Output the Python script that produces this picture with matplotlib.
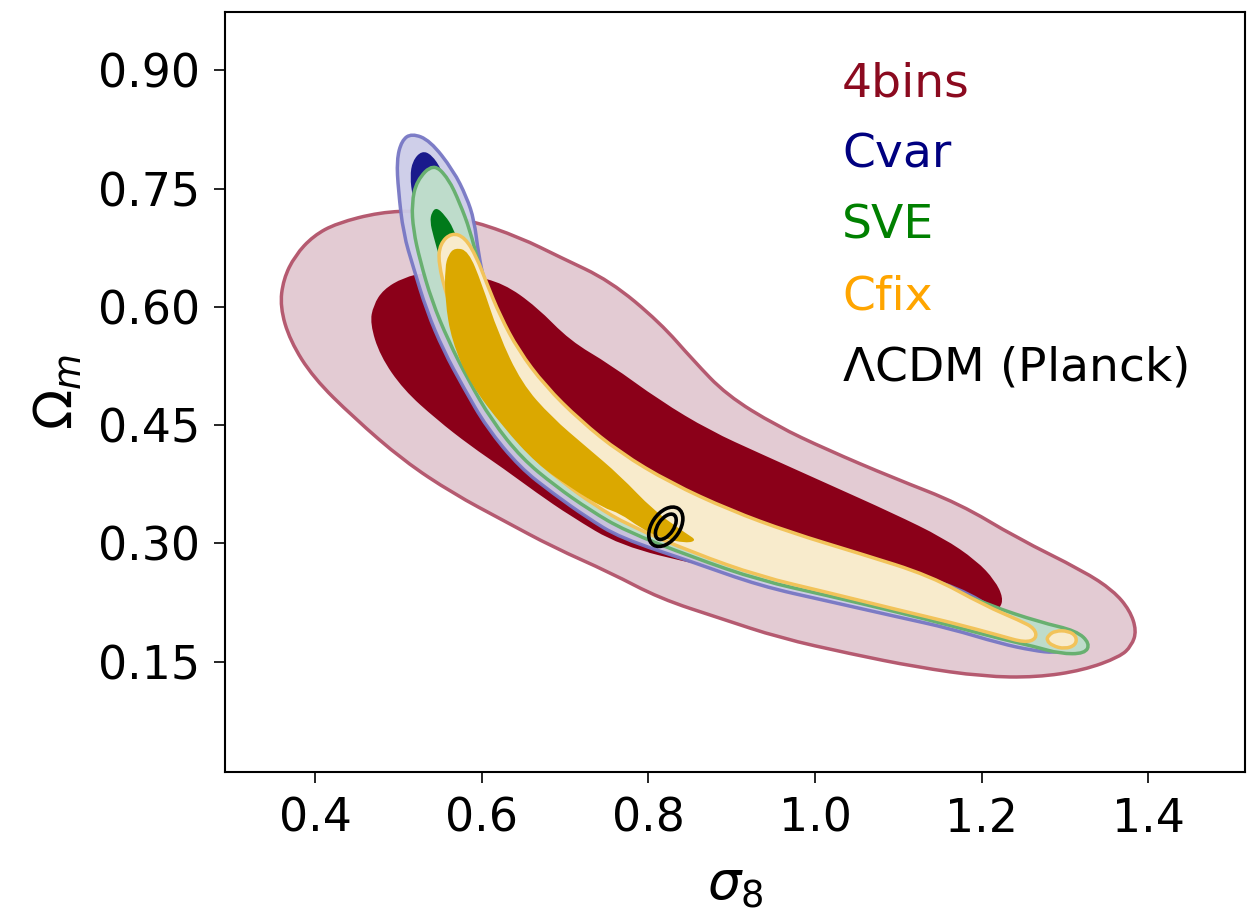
"""Omega_m - sigma_8 constraints for the four void-statistics setups"""
import matplotlib
matplotlib.use("Agg")
from matplotlib import pyplot as plt
from matplotlib.path import Path
from matplotlib.patches import PathPatch, Ellipse

# 68/95 per cent credible regions, traced as (sigma_8, Omega_m) outlines
bins4_95_s8 = [0.358, 0.362, 0.376, 0.398, 0.426, 0.478, 0.526, 0.586, 0.646, 0.694,
               0.754, 0.814, 0.854, 0.894, 0.954, 1.014, 1.094, 1.174, 1.242, 1.322,
               1.358, 1.378, 1.386, 1.380, 1.366, 1.322, 1.266, 1.202, 1.122, 1.042,
               0.958, 0.886, 0.814, 0.754, 0.686, 0.626, 0.566, 0.506, 0.446, 0.398,
               0.370]
bins4_95_om = [0.600, 0.635, 0.665, 0.690, 0.706, 0.720, 0.722, 0.710, 0.688, 0.663,
               0.633, 0.580, 0.532, 0.488, 0.449, 0.419, 0.383, 0.350, 0.307, 0.265,
               0.240, 0.215, 0.189, 0.170, 0.156, 0.139, 0.130, 0.131, 0.143, 0.160,
               0.180, 0.205, 0.230, 0.263, 0.295, 0.329, 0.363, 0.405, 0.460, 0.510,
               0.557]

bins4_68_s8 = [0.466, 0.470, 0.482, 0.506, 0.534, 0.586, 0.626, 0.666, 0.706, 0.754,
               0.814, 0.874, 0.934, 1.014, 1.094, 1.154, 1.194, 1.216, 1.226, 1.222,
               1.210, 1.102, 0.982, 0.862, 0.766, 0.706, 0.666, 0.626, 0.586, 0.546,
               0.506, 0.478]
bins4_68_om = [0.579, 0.602, 0.622, 0.637, 0.644, 0.640, 0.630, 0.600, 0.557, 0.527,
               0.481, 0.443, 0.414, 0.376, 0.338, 0.307, 0.278, 0.253, 0.231, 0.217,
               0.211, 0.227, 0.246, 0.272, 0.297, 0.335, 0.364, 0.395, 0.424, 0.457,
               0.495, 0.538]

cvar_95_s8 = [0.516, 0.538, 0.566, 0.582, 0.591, 0.596, 0.604, 0.622, 0.646, 0.676,
              0.712, 0.754, 0.802, 0.862, 0.934, 1.014, 1.094, 1.174, 1.222, 1.262,
              1.290, 1.304, 1.300, 1.288, 1.262, 1.222, 1.162, 1.102, 1.014, 0.934,
              0.854, 0.766, 0.726, 0.686, 0.646, 0.606, 0.578, 0.554, 0.534, 0.518,
              0.506, 0.500, 0.498, 0.504]
cvar_95_om = [0.820, 0.811, 0.773, 0.739, 0.710, 0.668, 0.627, 0.583, 0.538, 0.496,
              0.456, 0.415, 0.378, 0.348, 0.320, 0.291, 0.269, 0.243, 0.212, 0.199,
              0.189, 0.177, 0.166, 0.161, 0.164, 0.173, 0.192, 0.206, 0.227, 0.246,
              0.276, 0.307, 0.333, 0.363, 0.396, 0.447, 0.498, 0.545, 0.595, 0.650,
              0.693, 0.748, 0.786, 0.811]

cvar_68_s8 = [0.528, 0.540, 0.552, 0.562, 0.575, 0.600, 0.640, 0.680, 0.650, 0.615,
              0.585, 0.560, 0.540, 0.525, 0.517, 0.514, 0.517]
cvar_68_om = [0.798, 0.793, 0.774, 0.745, 0.700, 0.620, 0.540, 0.470, 0.460, 0.500,
              0.560, 0.620, 0.670, 0.710, 0.740, 0.765, 0.785]

sve_95_s8 = [0.542, 0.560, 0.574, 0.586, 0.596, 0.608, 0.628, 0.654, 0.688, 0.730,
             0.778, 0.838, 0.910, 0.982, 1.066, 1.138, 1.210, 1.270, 1.314, 1.330,
             1.324, 1.294, 1.264, 1.222, 1.162, 1.102, 1.014, 0.934, 0.854, 0.772,
             0.730, 0.688, 0.648, 0.612, 0.584, 0.560, 0.540, 0.526, 0.518, 0.516,
             0.522]
sve_95_om = [0.782, 0.763, 0.731, 0.697, 0.656, 0.614, 0.570, 0.526, 0.484, 0.443,
             0.405, 0.367, 0.333, 0.306, 0.281, 0.253, 0.221, 0.200, 0.189, 0.173,
             0.160, 0.160, 0.169, 0.179, 0.196, 0.212, 0.234, 0.253, 0.282, 0.316,
             0.342, 0.373, 0.408, 0.456, 0.507, 0.557, 0.608, 0.659, 0.697, 0.731,
             0.760]

sve_68_s8 = [0.546, 0.556, 0.566, 0.576, 0.590, 0.620, 0.660, 0.700, 0.740, 0.720,
             0.680, 0.640, 0.605, 0.580, 0.562, 0.550, 0.542, 0.538, 0.540]
sve_68_om = [0.726, 0.716, 0.700, 0.670, 0.620, 0.550, 0.480, 0.430, 0.390, 0.380,
             0.410, 0.450, 0.510, 0.570, 0.620, 0.660, 0.690, 0.708, 0.720]

cfix_95_s8 = [0.564, 0.580, 0.594, 0.606, 0.622, 0.644, 0.676, 0.718, 0.766, 0.826,
              0.898, 0.970, 1.054, 1.138, 1.204, 1.246, 1.264, 1.266, 1.252, 1.222,
              1.162, 1.102, 1.014, 0.934, 0.854, 0.776, 0.736, 0.694, 0.656, 0.622,
              0.596, 0.574, 0.558, 0.548, 0.550]
cfix_95_om = [0.694, 0.688, 0.663, 0.630, 0.589, 0.545, 0.500, 0.456, 0.415, 0.377,
              0.342, 0.314, 0.287, 0.259, 0.221, 0.202, 0.192, 0.179, 0.174, 0.183,
              0.200, 0.215, 0.238, 0.258, 0.288, 0.323, 0.348, 0.380, 0.415, 0.462,
              0.513, 0.564, 0.614, 0.656, 0.680]

# detached 95 per cent island at high sigma_8
cfix_95b_s8 = [1.280, 1.288, 1.304, 1.314, 1.313, 1.300, 1.285, 1.278]
cfix_95b_om = [0.183, 0.189, 0.189, 0.182, 0.171, 0.166, 0.170, 0.177]

cfix_68_s8 = [0.568, 0.584, 0.600, 0.620, 0.648, 0.684, 0.726, 0.766, 0.806, 0.846,
              0.858, 0.846, 0.814, 0.790, 0.766, 0.746, 0.706, 0.666, 0.626, 0.586,
              0.564, 0.556, 0.556, 0.560]
cfix_68_om = [0.675, 0.671, 0.630, 0.566, 0.503, 0.460, 0.422, 0.386, 0.342, 0.312,
              0.304, 0.300, 0.307, 0.320, 0.338, 0.345, 0.371, 0.401, 0.447, 0.503,
              0.557, 0.608, 0.650, 0.666]

# Planck LCDM: centre, widths (68, 95) and tilt of the two ellipses
planck_centre = (0.821, 0.321)
planck_width = [0.036, 0.055]
planck_height = [0.019, 0.034]
planck_angle = 58

labels = ["4bins", "Cvar", "SVE", "Cfix", r"$\Lambda$CDM (Planck)"]
label_colors = ["#8b0a1f", "#000080", "#008000", "#ffa500", "black"]


def smooth_region(ax, xs, ys, **kw):
    """Closed outline drawn as quadratic Bezier pieces through the traced points"""
    pts = list(zip(xs, ys))
    n = len(pts)
    mids = [((pts[i][0] + pts[(i + 1) % n][0]) / 2,
             (pts[i][1] + pts[(i + 1) % n][1]) / 2) for i in range(n)]
    verts = [mids[-1]]
    codes = [Path.MOVETO]
    for i in range(n):
        verts += [pts[i], mids[i]]
        codes += [Path.CURVE3, Path.CURVE3]
    verts.append(mids[-1])
    codes.append(Path.CLOSEPOLY)
    ax.add_patch(PathPatch(Path(verts, codes), **kw))


fig = plt.figure(figsize=(12.6, 9.19), dpi=100)
ax = fig.add_axes([0.1786, 0.16, 0.8094, 0.827])

# 4bins
smooth_region(ax, bins4_95_s8, bins4_95_om, facecolor="#e3cbd3", edgecolor="#b55a70",
              lw=2.5, zorder=1)
smooth_region(ax, bins4_68_s8, bins4_68_om, facecolor="#8b0019", edgecolor="none", zorder=2)
# Cvar
smooth_region(ax, cvar_95_s8, cvar_95_om, facecolor="#cdcde8", edgecolor="#7777c4",
              lw=2.5, alpha=0.95, zorder=3)
smooth_region(ax, cvar_68_s8, cvar_68_om, facecolor="#1a1a8c", edgecolor="none", zorder=4)
# SVE
smooth_region(ax, sve_95_s8, sve_95_om, facecolor="#bedccb", edgecolor="#68b070",
              lw=2.5, zorder=5)
smooth_region(ax, sve_68_s8, sve_68_om, facecolor="#007a1a", edgecolor="none", zorder=6)
# Cfix
smooth_region(ax, cfix_95_s8, cfix_95_om, facecolor="#f8ebcc", edgecolor="#f2c35a",
              lw=2.5, zorder=7)
smooth_region(ax, cfix_95b_s8, cfix_95b_om, facecolor="#f8ebcc", edgecolor="#f2c35a",
              lw=2.5, zorder=7)
smooth_region(ax, cfix_68_s8, cfix_68_om, facecolor="#dba800", edgecolor="none", zorder=8)
# Planck
for w, h in zip(planck_width, planck_height):
    ax.add_patch(Ellipse(planck_centre, w, h, angle=planck_angle, fill=False,
                         edgecolor="black", lw=2.6, zorder=9))

for i, (lab, col) in enumerate(zip(labels, label_colors)):
    ax.text(0.605, 0.905 - i * 0.0935, lab, color=col, fontsize=34,
            transform=ax.transAxes, va="center", ha="left")

ax.set_xlim(0.292, 1.516)
ax.set_ylim(0.01, 0.974)
ax.set_xticks([0.4, 0.6, 0.8, 1.0, 1.2, 1.4])
ax.set_yticks([0.15, 0.30, 0.45, 0.60, 0.75, 0.90])
ax.set_yticklabels(["0.15", "0.30", "0.45", "0.60", "0.75", "0.90"])
ax.tick_params(labelsize=33, length=8, width=1.2, pad=10)
for sp in ax.spines.values():
    sp.set_linewidth(1.5)
ax.set_xlabel(r"$\sigma_8$", fontsize=38, labelpad=12)
ax.set_ylabel(r"$\Omega_m$", fontsize=38, labelpad=10)

fig.savefig("out.png", dpi=100)
